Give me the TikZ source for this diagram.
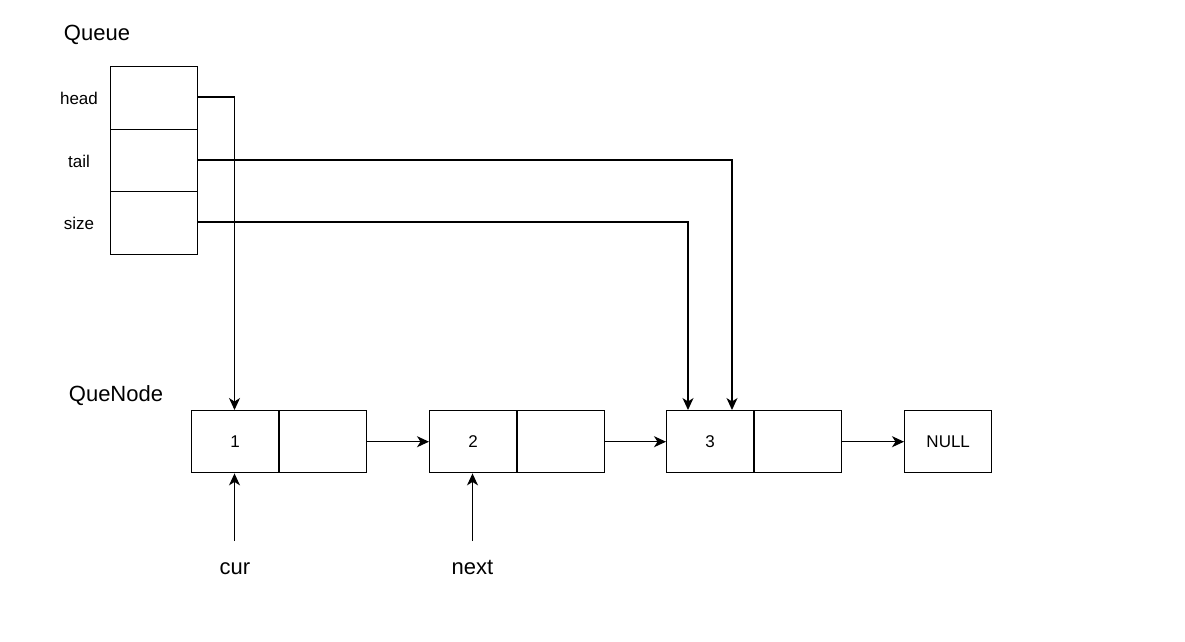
\documentclass[tikz,border=0pt]{standalone}
\usepackage{fontspec}
\setmainfont{Liberation Sans}
\usetikzlibrary{arrows.meta}
\begin{document}
\begin{tikzpicture}[x=1pt,y=-1pt,
  cell/.style={draw, line width=1.4pt, minimum width=87pt, minimum height=62pt, inner sep=0pt, anchor=north west, font=\fontsize{17}{20}\selectfont},
  qcell/.style={draw, line width=1.4pt, minimum width=87pt, minimum height=62.5pt, inner sep=0pt, anchor=north west},
  small/.style={font=\fontsize{17}{20}\selectfont, inner sep=0pt},
  big/.style={font=\fontsize{22}{26}\selectfont, inner sep=0pt},
  link/.style={line width=1.3pt, -{Stealth[length=12pt,width=11pt,inset=3.5pt]}},
  plain/.style={line width=1.3pt}]
\useasboundingbox (0,0) rectangle (1185,641);
% Queue
\node[big] (qlab) at (97,35) {Queue};
\node[qcell] (qh) at (110,66) {};
\node[qcell] (qt) at (110,128.5) {};
\node[qcell] (qs) at (110,191) {};
\node[small] (lh) at (79,98) {head};
\node[small] (lt) at (79,161) {tail};
\node[small] (ls) at (79,223) {size};
% QueNode
\node[big] (nlab) at (116,396) {QueNode};
\node[cell] (n1a) at (191,410) {1};
\node[cell] (n1b) at (278.5,410) {};
\node[cell] (n2a) at (429,410) {2};
\node[cell] (n2b) at (516.5,410) {};
\node[cell] (n3a) at (666,410) {3};
\node[cell] (n3b) at (753.5,410) {};
\node[cell] (nul) at (904,410) {NULL};
% pointers
\coordinate (c1) at (234.5,410);
\coordinate (c3a) at (688,410);
\coordinate (c3b) at (732,410);
\draw[link] (qh.east |- 0,97) -| (c1);
\draw[link] (qt.east |- 0,160) -| (c3b);
\draw[link] (qs.east |- 0,222) -| (c3a);
\draw[link] (n1b.east) -- (n2a.west);
\draw[link] (n2b.east) -- (n3a.west);
\draw[link] (n3b.east) -- (nul.west);
% cur / next
\node[big, anchor=base] (cur) at (235,574) {cur};
\node[big, anchor=base] (nxt) at (472.5,574) {next};
\coordinate (cs) at (234.5,541);
\coordinate (ns) at (472.5,541);
\draw[link] (cs) -- (cs |- n1a.south);
\draw[link] (ns) -- (ns |- n2a.south);
\end{tikzpicture}
\end{document}
